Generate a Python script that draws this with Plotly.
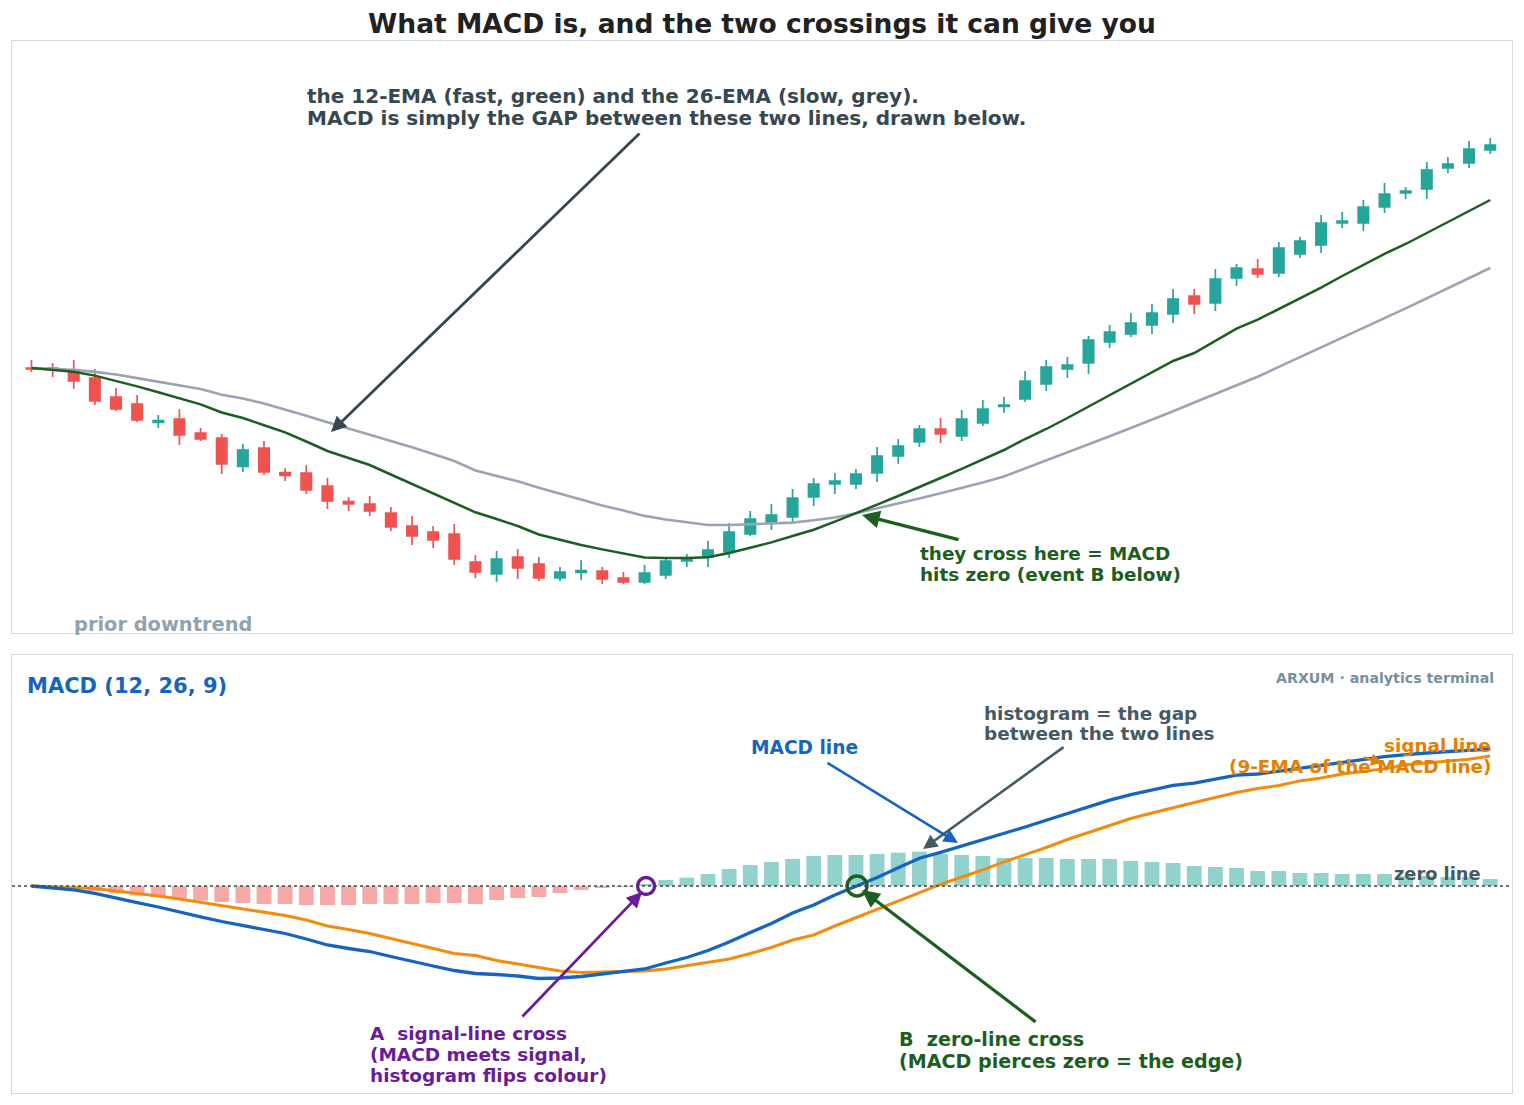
import plotly.graph_objects as go
from plotly.subplots import make_subplots

# ---------------- data ----------------
idx = list(range(70))

opens = [100.0, 100.0, 99.6, 98.0, 94.2, 92.8, 89.1, 89.8, 87.0, 86.0,
         80.3, 84.0, 79.1, 79.0, 76.4, 73.3, 72.8, 71.0, 68.4, 67.2,
         66.8, 61.2, 58.8, 62.2, 60.8, 58.0, 59.1, 59.4, 58.0, 57.2,
         58.6, 61.4, 62.2, 63.2, 66.8, 69.0, 70.2, 74.2, 76.8, 76.8,
         79.0, 82.4, 85.2, 87.8, 86.4, 89.0, 92.3, 93.8, 96.8, 99.8,
         101.0, 105.2, 106.8, 108.6, 110.8, 114.4, 113.0, 118.0, 119.8, 119.0,
         122.8, 124.6, 129.0, 129.0, 132.2, 135.0, 135.8, 140.0, 141.0, 143.6]
closes = [99.8, 99.8, 97.4, 93.4, 91.8, 89.6, 89.5, 86.6, 85.8, 80.8,
          83.6, 79.2, 78.5, 75.6, 73.4, 72.8, 71.4, 68.2, 66.4, 65.6,
          61.8, 59.2, 61.8, 60.0, 58.0, 59.2, 59.5, 57.8, 57.2, 59.0,
          61.4, 61.8, 63.6, 67.2, 69.8, 70.6, 74.0, 76.8, 77.4, 78.8,
          82.4, 84.4, 87.8, 86.8, 89.8, 91.8, 92.6, 97.4, 100.2, 100.6,
          105.6, 107.2, 109.0, 111.0, 113.8, 112.8, 117.8, 120.0, 118.8, 124.0,
          125.4, 129.0, 129.4, 132.2, 134.8, 135.4, 139.6, 140.8, 143.8, 144.6]
highs = [101.6, 101.0, 101.6, 99.8, 96.0, 94.6, 90.6, 91.8, 88.0, 86.8,
         84.8, 85.4, 80.0, 80.6, 78.0, 74.2, 74.4, 72.2, 70.4, 68.4,
         68.8, 62.6, 63.4, 63.8, 62.2, 60.2, 61.6, 60.2, 59.2, 60.6,
         62.2, 62.8, 65.4, 69.0, 71.4, 72.8, 75.8, 78.0, 79.0, 79.8,
         84.2, 85.8, 88.6, 90.0, 91.6, 93.6, 94.2, 99.4, 101.6, 102.2,
         106.4, 108.6, 111.0, 112.8, 115.8, 115.8, 119.8, 120.8, 121.8, 125.2,
         126.2, 130.6, 131.2, 133.6, 137.0, 136.2, 141.2, 142.2, 145.4, 146.0]
lows = [99.2, 98.2, 95.8, 92.6, 91.4, 89.2, 88.0, 84.6, 85.4, 78.8,
        79.2, 78.6, 77.4, 74.8, 71.8, 71.4, 70.4, 67.4, 64.6, 64.0,
        60.6, 58.0, 57.2, 57.8, 57.4, 57.4, 57.6, 56.8, 56.8, 56.8,
        57.8, 60.2, 60.2, 62.0, 66.4, 67.6, 69.2, 72.4, 74.8, 75.8,
        77.2, 80.8, 84.2, 85.0, 85.4, 88.4, 91.0, 93.2, 95.4, 98.0,
        98.8, 104.0, 106.2, 106.8, 109.0, 110.8, 111.4, 116.4, 118.0, 118.2,
        122.0, 123.0, 128.0, 127.4, 131.0, 133.8, 133.8, 139.0, 140.0, 142.8]

ema_fast = [100.0, 99.66, 99.26, 98.48, 97.46, 96.32, 95.14, 93.98, 92.72, 91.1,
            90.0, 88.56, 87.12, 85.3, 83.4, 82.0, 80.6, 78.7, 76.8, 74.92,
            73.04, 71.14, 69.8, 68.4, 66.7, 65.6, 64.6, 63.72, 62.92, 62.1,
            62.0, 62.0, 62.16, 63.0, 64.06, 65.12, 66.4, 67.66, 69.28, 70.92,
            72.66, 74.4, 76.14, 78.0, 79.84, 81.7, 83.6, 85.8, 87.8, 90.0,
            92.3, 94.6, 96.94, 99.2, 101.4, 103.0, 105.4, 107.88, 109.66, 111.8,
            113.88, 116.06, 118.4, 120.68, 122.82, 124.8, 127.0, 129.1, 131.3, 133.6]
ema_slow = [100.0, 99.82, 99.64, 99.22, 98.7, 97.98, 97.26, 96.52, 95.8, 94.64,
            93.9, 92.9, 91.72, 90.46, 89.16, 87.94, 86.72, 85.48, 84.14, 82.8,
            81.4, 79.5, 78.4, 77.34, 76.06, 74.86, 73.66, 72.5, 71.52, 70.42,
            69.7, 69.14, 68.6, 68.6, 68.72, 68.88, 69.08, 69.56, 70.1, 70.96,
            71.9, 72.86, 73.9, 74.94, 76.0, 77.12, 78.32, 79.9, 81.52, 83.14,
            84.74, 86.36, 88.0, 89.6, 91.36, 93.1, 94.8, 96.5, 98.24, 100.22,
            102.2, 104.14, 106.08, 108.0, 109.98, 111.92, 113.92, 115.96, 117.98, 120.0]

macd_line = [0.0, -0.16, -0.38, -0.74, -1.24, -1.66, -2.1, -2.55, -3.08, -3.55,
             -3.95, -4.4, -4.75, -5.3, -5.9, -6.25, -6.55, -7.05, -7.55, -8.0,
             -8.45, -8.75, -8.85, -9.0, -9.25, -9.2, -9.05, -8.8, -8.6, -8.3,
             -7.7, -7.15, -6.45, -5.6, -4.65, -3.75, -2.7, -1.9, -0.9, -0.05,
             0.85, 1.83, 2.78, 3.37, 4.0, 4.62, 5.22, 5.9, 6.58, 7.27,
             7.94, 8.58, 9.14, 9.6, 10.06, 10.28, 10.68, 11.09, 11.2, 11.5,
             11.81, 12.1, 12.4, 12.7, 12.93, 13.13, 13.32, 13.45, 13.57, 13.7]
signal_line = [0.0, -0.06, -0.13, -0.24, -0.49, -0.71, -1.0, -1.3, -1.63, -1.95,
               -2.25, -2.6, -2.95, -3.4, -4.0, -4.35, -4.75, -5.25, -5.75, -6.3,
               -6.75, -6.95, -7.45, -7.8, -8.15, -8.5, -8.65, -8.6, -8.5, -8.5,
               -8.3, -7.98, -7.65, -7.3, -6.75, -6.15, -5.4, -4.9, -4.0, -3.15,
               -2.35, -1.5, -0.65, 0.17, 0.9, 1.62, 2.42, 3.1, 3.85, 4.65,
               5.35, 6.0, 6.75, 7.3, 7.85, 8.35, 8.85, 9.35, 9.75, 10.05,
               10.51, 10.8, 11.2, 11.5, 11.73, 12.13, 12.32, 12.55, 12.67, 13.0]
histogram = [0.0, -0.1, -0.25, -0.5, -0.75, -0.95, -1.1, -1.25, -1.45, -1.6,
             -1.7, -1.8, -1.8, -1.9, -1.9, -1.9, -1.8, -1.8, -1.8, -1.7,
             -1.7, -1.8, -1.4, -1.2, -1.1, -0.7, -0.4, -0.2, -0.1, 0.2,
             0.6, 0.83, 1.2, 1.7, 2.1, 2.4, 2.7, 3.0, 3.1, 3.1,
             3.2, 3.33, 3.43, 3.2, 3.1, 3.0, 2.8, 2.8, 2.8, 2.7,
             2.7, 2.7, 2.5, 2.4, 2.3, 2.0, 1.9, 1.8, 1.5, 1.5,
             1.3, 1.3, 1.2, 1.2, 1.2, 1.0, 1.0, 0.9, 0.9, 0.7]

cross_a = (29.07, 0.0)
cross_b = (39.05, 0.0)

# ---------------- styling ----------------
FONT = "DejaVu Sans"
UP, DOWN = "#26a69a", "#ef5350"
UP_H, DOWN_H = "rgba(38,166,154,0.5)", "rgba(239,83,80,0.5)"
GREEN, GREY = "#1b5e20", "#9aa5b1"
BLUE, ORANGE = "#1565c0", "#f28c0f"
PURPLE, SLATE = "#6a1b9a", "#37474f"
FRAME = "#d3d9de"

fig = make_subplots(rows=2, cols=1, shared_xaxes=False,
                    row_heights=[592, 438], vertical_spacing=22 / 1052)

fig.add_trace(go.Candlestick(
    x=idx, open=opens, high=highs, low=lows, close=closes,
    increasing=dict(line=dict(color=UP, width=1.7), fillcolor=UP),
    decreasing=dict(line=dict(color=DOWN, width=1.7), fillcolor=DOWN),
    whiskerwidth=0, hoverinfo="skip", showlegend=False), row=1, col=1)
fig.add_trace(go.Scatter(x=idx, y=ema_slow, mode="lines",
                         line=dict(color=GREY, width=2.6), hoverinfo="skip",
                         showlegend=False), row=1, col=1)
fig.add_trace(go.Scatter(x=idx, y=ema_fast, mode="lines",
                         line=dict(color=GREEN, width=2.5), hoverinfo="skip",
                         showlegend=False), row=1, col=1)

hist_colors = [UP_H if v >= 0 else DOWN_H for v in histogram]
fig.add_trace(go.Bar(x=idx, y=histogram, width=0.7, marker=dict(color=hist_colors, line=dict(width=0)),
                     hoverinfo="skip", showlegend=False), row=2, col=1)
fig.add_trace(go.Scatter(x=idx, y=signal_line, mode="lines",
                         line=dict(color=ORANGE, width=3), hoverinfo="skip",
                         showlegend=False), row=2, col=1)
fig.add_trace(go.Scatter(x=idx, y=macd_line, mode="lines",
                         line=dict(color=BLUE, width=3.3), hoverinfo="skip",
                         showlegend=False), row=2, col=1)
fig.add_trace(go.Scatter(x=[cross_a[0]], y=[cross_a[1]], mode="markers",
                         marker=dict(symbol="circle-open", size=17, color=PURPLE,
                                     line=dict(width=3.4, color=PURPLE)),
                         hoverinfo="skip", showlegend=False), row=2, col=1)
fig.add_trace(go.Scatter(x=[cross_b[0]], y=[cross_b[1]], mode="markers",
                         marker=dict(symbol="circle-open", size=20, color=GREEN,
                                     line=dict(width=3.4, color=GREEN)),
                         hoverinfo="skip", showlegend=False), row=2, col=1)

XR = [-0.92, 70.03]
axis_common = dict(showgrid=False, zeroline=False, showticklabels=False, ticks="",
                   showline=True, mirror=True, linecolor=FRAME, linewidth=1)
fig.update_xaxes(range=XR, rangeslider=dict(visible=False), **axis_common)
fig.update_yaxes(**axis_common)
fig.update_yaxes(range=[47.0, 165.4], row=1, col=1)
fig.update_yaxes(range=[-20.7, 23.1], row=2, col=1)

fig.add_shape(type="line", xref="x2", yref="y2", x0=XR[0], x1=XR[1], y0=0, y1=0,
              line=dict(color=SLATE, width=1.7, dash="dot"), layer="above")


# pixel helpers for placing annotation text (layout positions only)
def px_x(px):
    return (px - 31.5) / 21.14


def py_top(py):
    return 173.6 - py / 5.0


def py_bot(py):
    return (886.0 - py) / 10.0


def lines(x_px, ys_px, strs, color, size, panel=1, xa="left"):
    ref = ("x", "y") if panel == 1 else ("x2", "y2")
    conv = py_top if panel == 1 else py_bot
    off = -2.5 if xa == "left" else 2.5
    for yp, s in zip(ys_px, strs):
        fig.add_annotation(x=px_x(x_px + off), y=conv(yp), xref=ref[0], yref=ref[1],
                           text="<b>" + s + "</b>", showarrow=False,
                           xanchor=xa, yanchor="middle",
                           font=dict(family=FONT, size=size, color=color))


def arrow(p0, p1, color, panel=1, w=2.8):
    ref = ("x", "y") if panel == 1 else ("x2", "y2")
    conv = py_top if panel == 1 else py_bot
    fig.add_annotation(x=px_x(p1[0]), y=conv(p1[1]), ax=px_x(p0[0]), ay=conv(p0[1]),
                       xref=ref[0], yref=ref[1], axref=ref[0], ayref=ref[1],
                       text="", showarrow=True, arrowhead=2, arrowsize=1.1,
                       arrowwidth=w, arrowcolor=color, standoff=0, startstandoff=0)


# top panel
lines(308, [96, 118], ["the 12-EMA (fast, green) and the 26-EMA (slow, grey).",
                       "MACD is simply the GAP between these two lines, drawn below."], SLATE, 20)
arrow((641, 132), (331, 432), SLATE)
lines(920, [553, 574], ["they cross here = MACD", "hits zero (event B below)"], GREEN, 18.4)
arrow((960, 540), (862, 515), GREEN, w=3.2)
lines(75, [624], ["prior downtrend"], "#90a4ae", 19.4)

# bottom panel
lines(28, [686], ["MACD (12, 26, 9)"], BLUE, 21, panel=2)
lines(1493, [678], ["ARXUM · analytics terminal"], "#78909c", 14.2, panel=2, xa="right")
lines(751, [747], ["MACD line"], BLUE, 18.6, panel=2)
arrow((826, 762), (958, 843), BLUE, panel=2, w=2.6)
lines(984, [713, 733], ["histogram = the gap", "between the two lines"], "#455a64", 18.4, panel=2)
arrow((1065, 746), (923, 849), "#455a64", panel=2, w=2.6)
lines(1490, [745, 766], ["signal line", "(9-EMA of the MACD line)"], "#e67e00", 18.4,
      panel=2, xa="right")
arrow((1362, 757), (1383, 763), "#e67e00", panel=2, w=2.2)
lines(1480, [873], ["zero line"], "#455a64", 17.8, panel=2, xa="right")
lines(371, [1033, 1054, 1075], ["A  signal-line cross", "(MACD meets signal,",
                                "histogram flips colour)"], PURPLE, 18.5, panel=2)
arrow((521, 1018), (642, 892), PURPLE, panel=2)
lines(899, [1039, 1061], ["B  zero-line cross", "(MACD pierces zero = the edge)"],
      GREEN, 19.1, panel=2)
arrow((1037, 1023), (862, 890), GREEN, panel=2, w=3.2)

fig.update_layout(
    width=1524, height=1105,
    margin=dict(l=12, r=12, t=41, b=12),
    paper_bgcolor="white", plot_bgcolor="white",
    title=dict(text="<b>What MACD is, and the two crossings it can give you</b>",
               x=0.5, xanchor="center", y=1 - 24 / 1105, yanchor="middle",
               font=dict(family=FONT, size=26.5, color="#212121")),
    font=dict(family=FONT),
    bargap=0.3,
    showlegend=False,
)

fig.write_html("out.html")
